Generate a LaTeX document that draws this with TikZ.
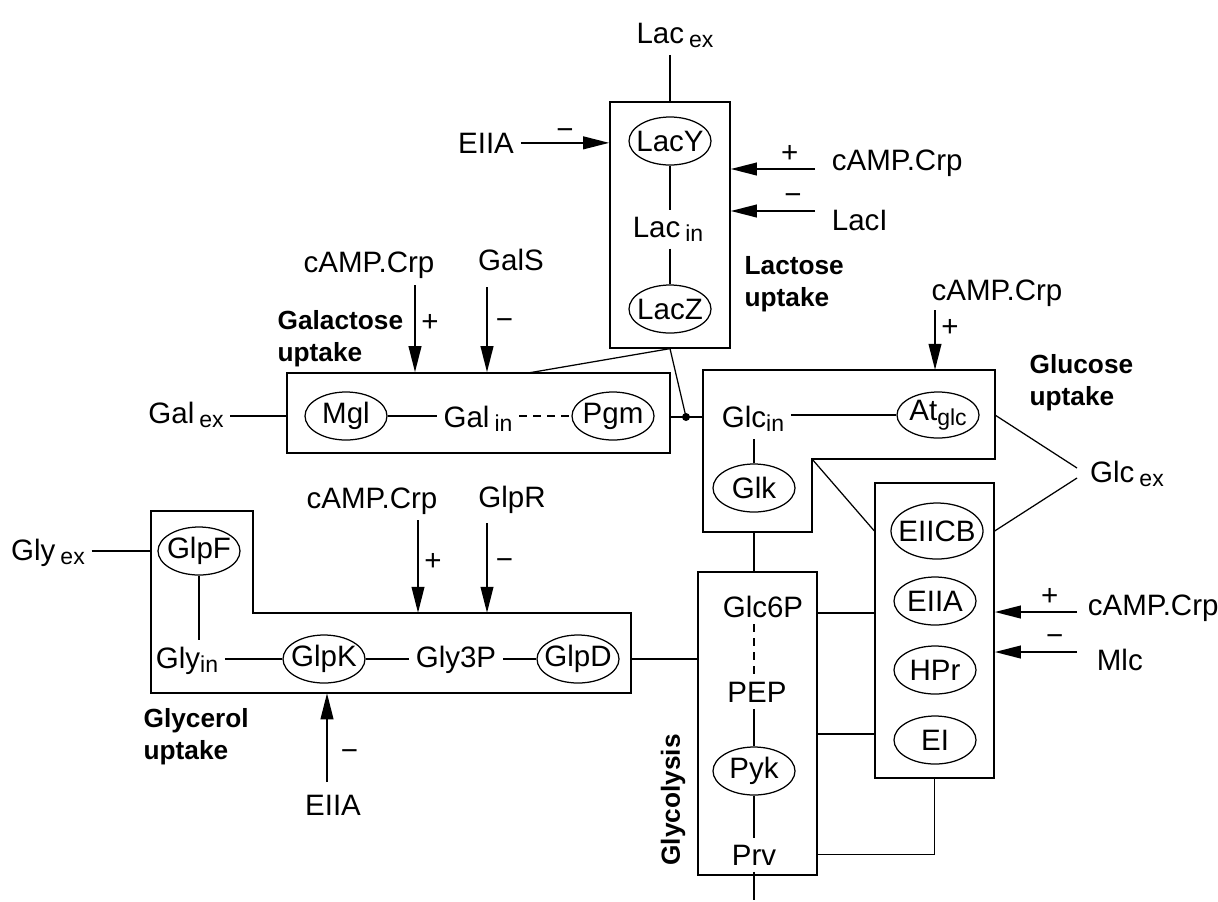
\documentclass[tikz,border=0pt]{standalone}
\usepackage{fontspec}
\setmainfont{Liberation Sans}
\usetikzlibrary{arrows.meta, positioning, shapes.geometric, fit}
\newcommand\sub[1]{\raisebox{-0.3ex}{\fontsize{9.2}{10}\selectfont #1}}
\newcommand\ez[1]{\makebox[0pt]{#1}}
\tikzset{
  every picture/.style={x=0.4pt, y=-0.4pt, line width=0.5pt, font=\fontsize{11.8}{14}\selectfont},
  enz/.style={draw, ellipse, inner sep=0pt, minimum width=32.8pt, minimum height=19.2pt},
  met/.style={inner sep=2.5pt, anchor=base},
  box/.style={draw, inner sep=0pt},
  act/.style={-{Triangle[length=10.5pt, width=5pt]}, line width=1pt},
  sgn/.style={inner sep=0pt},
  title/.style={font=\bfseries\fontsize{10.5}{12.8}\selectfont, align=left, anchor=west, inner sep=0pt},
  dashline/.style={dash pattern=on 3pt off 2.6pt},
}

\begin{document}
\begin{tikzpicture}
  \useasboundingbox (0,0) rectangle (1218,901);
  % lactose uptake
  \node[box, fit={(610,102) (730,348)}] (lacbox) {};
  \node[met] (lacex) at (675,43) {Lac\hspace{2pt}\sub{ex}};
  \node[enz] (lacy) at (670,141) {\ez{LacY}};
  \node[met] (lacin) at (668,237) {Lac\hspace{2pt}\sub{in}};
  \node[enz] (lacz) at (670,309) {\ez{LacZ}};
  \draw (lacex.south -| lacbox.north) -- (lacbox.north);
  \draw (lacy) -- (lacy |- lacin.north);
  \draw (lacin.south -| lacz) -- (lacz);
  \node[met] (eiia1) at (486,153) {EIIA};
  \draw[act] (eiia1) -- (eiia1 -| lacbox.west) node[midway, above=1pt, sgn] {−};
  \node[met, anchor=base west] (camp1) at (825,170) {cAMP.Crp};
  \coordinate (camp1t) at (815,169);
  \draw[act] (camp1t) -- (camp1t -| lacbox.east) node[pos=0.3, above=2pt, sgn] {+};
  \node[met, anchor=base west] (laci) at (825,230) {LacI};
  \coordinate (lacit) at (815,211);
  \draw[act] (lacit) -- (lacit -| lacbox.east) node[pos=0.26, above=2pt, sgn] {−};
  \node[title] (lactitle) at (744,284) {Lactose\\uptake};

  % galactose uptake
  \node[box, fit={(287,373) (670,453)}] (galbox) {};
  \node[met] (galex) at (186,423) {Gal\hspace{2pt}\sub{ex}};
  \node[enz] (mgl) at (346,416) {\ez{Mgl}};
  \node[met] (galin) at (478,427) {Gal\hspace{2pt}\sub{in}};
  \node[enz] (pgm) at (613,416) {\ez{Pgm}};
  \draw (galex.east |- mgl) -- (mgl -| galbox.west);
  \draw (mgl) -- (galin.west |- mgl);
  \draw[dashline] (galin.east |- pgm) -- (pgm);
  \node[met] (camp2) at (369,272) {cAMP.Crp};
  \coordinate (camp2t) at (415,285);
  \draw[act] (camp2t) -- (camp2t |- galbox.north) node[pos=0.43, right=2pt, sgn] {+};
  \node[met] (gals) at (511,270) {GalS};
  \coordinate (galst) at (487,287);
  \draw[act] (galst) -- (galst |- galbox.north) node[pos=0.43, right=3pt, sgn] {−};
  \node[title] (galtitle) at (277,339) {Galactose\\uptake};

  % glucose uptake
  \coordinate (gA) at (703,370);
  \coordinate (gB) at (995,370);
  \coordinate (gC) at (995,459);
  \coordinate (gD) at (812,459);
  \coordinate (gE) at (812,532);
  \coordinate (gF) at (703,532);
  \draw (gA) -- (gB) -- (gC) -- (gD) -- (gE) -- (gF) -- cycle;
  \node[met] (glcin) at (753,427) {Glc\sub{in}};
  \node[enz, minimum height=18.4pt] (atglc) at (938,415) {\ez{At\sub{glc}}};
  \node[enz] (glk) at (754,488) {\ez{Glk}};
  \draw (glcin.east |- atglc) -- (atglc);
  \draw (glk) -- (glk |- glcin.south);
  \node[met] (camp3) at (997,300) {cAMP.Crp};
  \coordinate (camp3t) at (935,310);
  \draw[act] (camp3t) -- (camp3t |- gA) node[pos=0.3, right=2pt, sgn] {+};
  \node[title] (glctitle) at (1029,383) {Glucose\\uptake};

  % junction of lactose products
  \coordinate (lacout) at (lacbox.south);
  \coordinate (galtop) at (528,373);
  \coordinate (junc) at (686,417);
  \draw (lacout) -- (galtop);
  \draw (lacout) -- (junc);
  \draw (galbox.east |- junc) -- (junc -| gA);
  \fill (junc) circle (1.6pt);

  % PTS
  \node[box, fit={(875,483) (994,778)}] (ptsbox) {};
  \node[enz, minimum width=36.8pt, minimum height=22.4pt] (eiicb) at (937,531) {\ez{EIICB}};
  \node[enz] (eiia2) at (935,601) {\ez{EIIA}};
  \node[enz] (hpr) at (935,670) {\ez{HPr}};
  \node[enz] (ei) at (935,740) {\ez{EI}};
  \draw (gD) -- (ptsbox.west |- eiicb);
  \node[met] (glcex) at (1127,482) {Glc\hspace{2pt}\sub{ex}};
  \coordinate (glcx1) at (1077,468);
  \coordinate (glcx2) at (1077,478);
  \draw (glcx1) -- (gB |- atglc);
  \draw (glcx2) -- (ptsbox.east |- eiicb);
  \node[met, anchor=base west] (camp4) at (1081,615) {cAMP.Crp};
  \coordinate (camp4t) at (1077,612);
  \draw[act] (camp4t) -- (camp4t -| ptsbox.east) node[pos=0.33, above=2pt, sgn] {+};
  \node[met, anchor=base west] (mlc) at (1090,670) {Mlc};
  \coordinate (mlct) at (1077,652);
  \draw[act] (mlct) -- (mlct -| ptsbox.east) node[pos=0.27, above=2pt, sgn] {−};

  % glycolysis
  \node[box, fit={(698,572) (817,875)}] (gbox) {};
  \node[met] (glc6p) at (763,617) {Glc6P};
  \node[met] (pep) at (757,702) {PEP};
  \node[enz] (pyk) at (754,771) {\ez{Pyk}};
  \node[met] (prv) at (754,865) {Prv};
  \coordinate (prvout) at (754,900);
  \draw (glk |- gE) -- (glk |- gbox.north);
  \draw[dashline] (pyk |- glc6p.south) -- (pyk |- pep.north);
  \draw (pep.south -| pyk) -- (pyk);
  \draw (pyk) -- (pyk |- prv.north);
  \draw (prv.south) -- (prvout);
  \node[title, rotate=90, anchor=center] (glytitle) at (673,800) {Glycolysis};
  \coordinate (pts1) at (875,613);
  \coordinate (pts2) at (875,734);
  \draw (pts1 -| gbox.east) -- (pts1);
  \draw (pts2 -| gbox.east) -- (pts2);
  \draw (ptsbox.south) |- (prv -| gbox.east);

  % glycerol uptake
  \coordinate (yA) at (151,511);
  \coordinate (yB) at (253,511);
  \coordinate (yC) at (253,613);
  \coordinate (yD) at (631,613);
  \coordinate (yE) at (631,693);
  \coordinate (yF) at (151,693);
  \draw (yA) -- (yB) -- (yC) -- (yD) -- (yE) -- (yF) -- cycle;
  \node[met] (glyex) at (48,560) {Gly\hspace{2pt}\sub{ex}};
  \node[enz] (glpf) at (199,551) {\ez{GlpF}};
  \node[met] (glyin) at (187,668) {Gly\sub{in}};
  \node[enz] (glpk) at (324,659) {\ez{GlpK}};
  \node[met] (gly3p) at (456,667) {Gly3P};
  \node[enz] (glpd) at (578,659) {\ez{GlpD}};
  \draw (glyex.east |- glpf) -- (glpf -| yA);
  \draw (glpf) -- (glpf |- glyin.north);
  \draw (glyin.east |- glpk) -- (glpk);
  \draw (glpk) -- (gly3p.west |- glpk);
  \draw (gly3p.east |- glpd) -- (glpd);
  \draw (glpd -| yD) -- (glpd -| gbox.west);
  \node[met] (camp5) at (372,508) {cAMP.Crp};
  \coordinate (camp5t) at (418,520);
  \draw[act] (camp5t) -- (camp5t |- yC) node[pos=0.45, right=2pt, sgn] {+};
  \node[met] (glpr) at (512,507) {GlpR};
  \coordinate (glprt) at (487,523);
  \draw[act] (glprt) -- (glprt |- yC) node[pos=0.46, right=3pt, sgn] {−};
  \node[title] (glytitle2) at (143,737) {Glycerol\\uptake};
  \node[met] (eiia3) at (333,815) {EIIA};
  \coordinate (eiia3t) at (327,782);
  \draw[act] (eiia3t) -- (eiia3t |- yF) node[pos=0.3, right=5pt, sgn] {−};
\end{tikzpicture}
\end{document}
